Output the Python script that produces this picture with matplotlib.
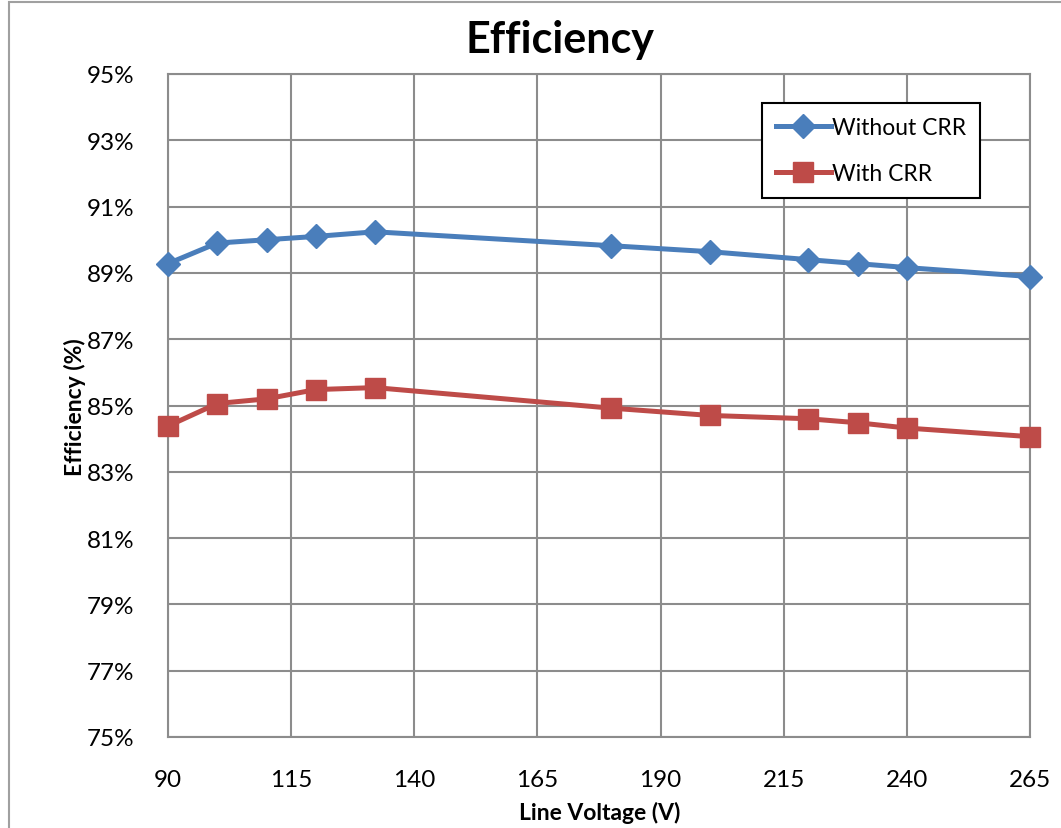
import matplotlib
matplotlib.use('Agg')
import matplotlib.pyplot as plt
from matplotlib.ticker import FuncFormatter

plt.rcParams['font.family'] = ['Lato', 'DejaVu Sans']

voltage = [90, 100, 110, 120, 132, 180, 200, 220, 230, 240, 265]
without_crr = [89.28, 89.9, 90.0, 90.1, 90.24, 89.82, 89.64, 89.4, 89.28, 89.16, 88.89]
with_crr = [84.38, 85.06, 85.2, 85.48, 85.54, 84.92, 84.7, 84.6, 84.48, 84.32, 84.06]

x_ticks = list(range(90, 266, 25))
y_ticks = list(range(75, 96, 2))

fig = plt.figure(figsize=(10.61, 8.29), dpi=100)
# outer chart border, like the spreadsheet frame
fig.patches.append(plt.Rectangle((9 / 1061, -0.01), 1.1, 1 - 3 / 829 + 0.01,
                                 transform=fig.transFigure, fill=False,
                                 edgecolor='#a0a0a0', linewidth=1.5))
ax = fig.add_axes([168 / 1061, 91 / 829, 862 / 1061, 663 / 829])

ax.plot(voltage, without_crr, color='#4A7EBB', linewidth=3.6, marker='D',
        markersize=12, label='Without CRR', clip_on=False, zorder=3)
ax.plot(voltage, with_crr, color='#BE4B48', linewidth=3.6, marker='s',
        markersize=14, label='With CRR', clip_on=False, zorder=3)

ax.set_xlim(90, 265)
ax.set_ylim(75, 95)
ax.set_xticks(x_ticks)
ax.set_yticks(y_ticks)
ax.yaxis.set_major_formatter(FuncFormatter(lambda v, p: '{:.0f}%'.format(v)))
ax.tick_params(length=0, labelsize=17.5)
ax.tick_params(axis='x', pad=23)
ax.tick_params(axis='y', pad=24)
ax.grid(color='#8c8c8c', linewidth=1.5)
ax.set_axisbelow(True)
for s in ax.spines.values():
    s.set_color('#8c8c8c')
    s.set_linewidth(1.5)

fig.text(560 / 1061, 1 - 40 / 829, 'Efficiency', fontsize=31, fontweight='bold',
         ha='center', va='center')
fig.text(600 / 1061, 1 - 813 / 829, 'Line Voltage (V)', fontsize=16.5,
         fontweight='bold', ha='center', va='center')
fig.text(75 / 1061, 1 - 407 / 829, 'Efficiency (%)', fontsize=16.5,
         fontweight='bold', ha='center', va='center', rotation=90)

leg = ax.legend(loc='upper left', bbox_to_anchor=(0.689, 0.956), fontsize=16.5,
                fancybox=False, framealpha=1, edgecolor='black',
                handlelength=2.4, handletextpad=0.05, borderpad=0.6,
                labelspacing=1.1, borderaxespad=0)
leg.get_frame().set_linewidth(1.5)

fig.savefig('out.png', dpi=100)
